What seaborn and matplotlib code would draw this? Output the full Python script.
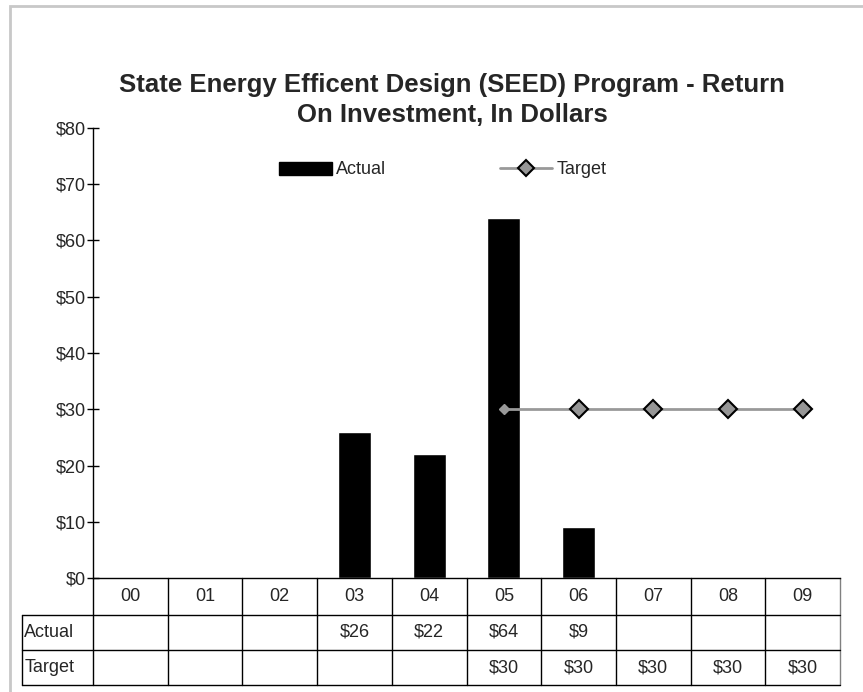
import numpy as np
import pandas as pd
import matplotlib
matplotlib.use("Agg")
import matplotlib.pyplot as plt
import matplotlib.transforms as mtransforms
from matplotlib.patches import Rectangle, Patch
from matplotlib.lines import Line2D
import seaborn as sns

# dados
anos = ["00", "01", "02", "03", "04", "05", "06", "07", "08", "09"]
actual = [None, None, None, 26, 22, 64, 9, None, None, None]
target = [None, None, None, None, None, 30, 30, 30, 30, 30]
yticks = [0, 10, 20, 30, 40, 50, 60, 70, 80]

titulo = "State Energy Efficent Design (SEED) Program - Return\nOn Investment, In Dollars"

sns.set_style("white")
plt.rcParams['font.family'] = ['Liberation Sans', 'DejaVu Sans']

W, H = 863, 692
FS = 13
fig = plt.figure(figsize=(W / 100, H / 100), dpi=100)

# pixel -> fracoes da figura
x0, x1 = 93, 840
y_top, y_zero = 128, 578
ax = fig.add_axes([x0 / W, 1 - y_zero / H, (x1 - x0) / W, (y_zero - y_top) / H])

# moldura cinza clara do grafico
fig.patches.append(Rectangle((10 / W, -0.2), 1.2, 1 - 6 / H + 0.2, transform=fig.transFigure,
                             fill=False, edgecolor="#c8c8c8", linewidth=2))

# barras
df_act = pd.DataFrame({"ano": anos, "valor": actual}).dropna()
sns.barplot(data=df_act, x="ano", y="valor", order=anos, color="black",
            width=0.44, saturation=1, ax=ax, zorder=2)

# linha alvo
pos_t = [i for i, v in enumerate(target) if v is not None]
val_t = [v for v in target if v is not None]
ax.plot(pos_t, val_t, color="#999999", linewidth=2, zorder=3)
ax.plot(pos_t[:1], val_t[:1], linestyle="none", marker="D", markersize=5,
        markerfacecolor="#999999", markeredgecolor="#999999", zorder=4)
ax.plot(pos_t[1:], val_t[1:], linestyle="none", marker="D", markersize=9,
        markerfacecolor="#969696", markeredgecolor="black", markeredgewidth=1.5, zorder=4)

ax.set_xlim(-0.5, len(anos) - 0.5)
ax.set_ylim(0, 80)
ax.set_yticks(yticks)
ax.set_yticklabels([f"${v}" for v in yticks], fontsize=FS)
ax.tick_params(axis="y", direction="inout", length=9, width=1, color="black", pad=0.5, left=True)
ax.set_xticks([])
ax.set_xlabel("")
ax.set_ylabel("")
for s in ["top", "right"]:
    ax.spines[s].set_visible(False)
for s in ["left", "bottom"]:
    ax.spines[s].set_color("black")
    ax.spines[s].set_linewidth(1)

# tabela de dados abaixo do eixo
tr = mtransforms.blended_transform_factory(ax.transData, ax.transAxes)
alt = y_zero - y_top
r1 = -(615 - y_zero) / alt
r2 = -(650 - y_zero) / alt
r3 = -(685 - y_zero) / alt
col_w = (x1 - x0) / len(anos)
x_head = -0.5 - (x0 - 22) / col_w
n = len(anos)

kw = dict(transform=tr, clip_on=False, color="black", linewidth=1)
for i in range(n + 1):
    cor = "#808080" if i == n else "black"
    ax.add_line(Line2D([i - 0.5, i - 0.5], [0, r3], transform=tr, clip_on=False, color=cor, linewidth=1))
for yy in [r1, r2, r3]:
    ax.add_line(Line2D([x_head, n - 0.5], [yy, yy], **kw))
ax.add_line(Line2D([x_head, x_head], [r1, r3], **kw))

for i, a in enumerate(anos):
    ax.text(i, r1 / 2, a, transform=tr, ha="center", va="center", fontsize=FS)
    if actual[i] is not None:
        ax.text(i, (r1 + r2) / 2, f"${actual[i]}", transform=tr, ha="center", va="center", fontsize=FS)
    if target[i] is not None:
        ax.text(i, (r2 + r3) / 2, f"${target[i]}", transform=tr, ha="center", va="center", fontsize=FS)
ax.text(x_head + 0.03, (r1 + r2) / 2, "Actual", transform=tr, ha="left", va="center", fontsize=FS)
ax.text(x_head + 0.03, (r2 + r3) / 2, "Target", transform=tr, ha="left", va="center", fontsize=FS)

# legenda
handles = [Patch(facecolor="black", edgecolor="black"),
           Line2D([], [], color="#999999", linewidth=2, marker="D", markersize=8,
                  markerfacecolor="#969696", markeredgecolor="black", markeredgewidth=1.5)]
fig.legend(handles, ["Actual", "Target"], loc="center", bbox_to_anchor=(443 / W, 1 - 170 / H),
           ncol=2, frameon=False, fontsize=FS, handlelength=2.9, handletextpad=0.25,
           columnspacing=6.3)

fig.text(452 / W, 1 - 100 / H, titulo, ha="center", va="center", fontsize=18.5,
         fontweight="bold", linespacing=1.33)

fig.savefig("out.png", dpi=100)
